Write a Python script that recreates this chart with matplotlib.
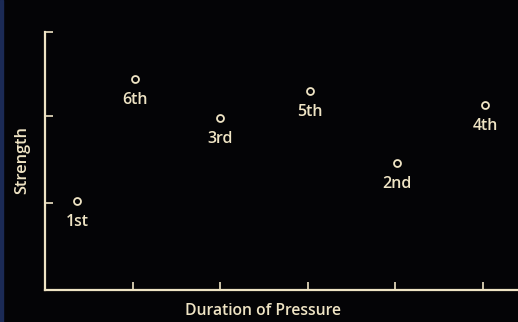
import matplotlib.pyplot as plt
from matplotlib.patches import Rectangle

# order of the trials, position along the duration axis and strength
labels = ['1st', '6th', '3rd', '5th', '2nd', '4th']
duration = [0.37, 1.03, 2.0, 3.03, 4.02, 5.03]
strength = [1.02, 2.43, 1.98, 2.29, 1.46, 2.13]

fg = '#efe4c4'
bg = '#040406'

fig = plt.figure(figsize=(5.18, 3.22), dpi=100, facecolor=bg)
# thin navy strip on the left edge of the scan
fig.patches.append(Rectangle((0, 0), 3 / 518, 1, transform=fig.transFigure,
                             color='#1b2a55', zorder=0))

ax = fig.add_axes([45 / 518, 32 / 322, 473 / 518, 258 / 322])
ax.set_facecolor(bg)

ax.plot(duration, strength, 'o', ms=5, mfc='none', mec=fg, mew=1.3, clip_on=False)
for x, y, lab in zip(duration, strength, labels):
    ax.annotate(lab, (x, y), xytext=(0, -9.5), textcoords='offset points',
                ha='center', va='top', color=fg, fontsize=11.5,
                family='Open Sans', fontweight='semibold')

ax.set_xlim(0, 473 / 87.5)
ax.set_ylim(0, 258 / 87)
ax.set_xticks([1, 2, 3, 4, 5])
ax.set_yticks([1, 2, 258 / 87])
ax.set_xticklabels([])
ax.set_yticklabels([])
ax.tick_params(direction='in', length=6, width=1.2, color=fg)

for side in ['top', 'right']:
    ax.spines[side].set_visible(False)
for side in ['left', 'bottom']:
    ax.spines[side].set_color(fg)
    ax.spines[side].set_linewidth(1.6)

ax.set_xlabel('Duration of Pressure', color=fg, fontsize=11.3,
              family='Open Sans', fontweight='semibold')
ax.xaxis.set_label_coords((263 - 45) / 473, -13 / 258)
fig.text(22 / 518, 1 - 160 / 322, 'Strength', rotation=90, ha='center', va='center',
         color=fg, fontsize=11.8, family='Open Sans', fontweight='semibold')

fig.savefig('out.png', dpi=100, facecolor=bg)
